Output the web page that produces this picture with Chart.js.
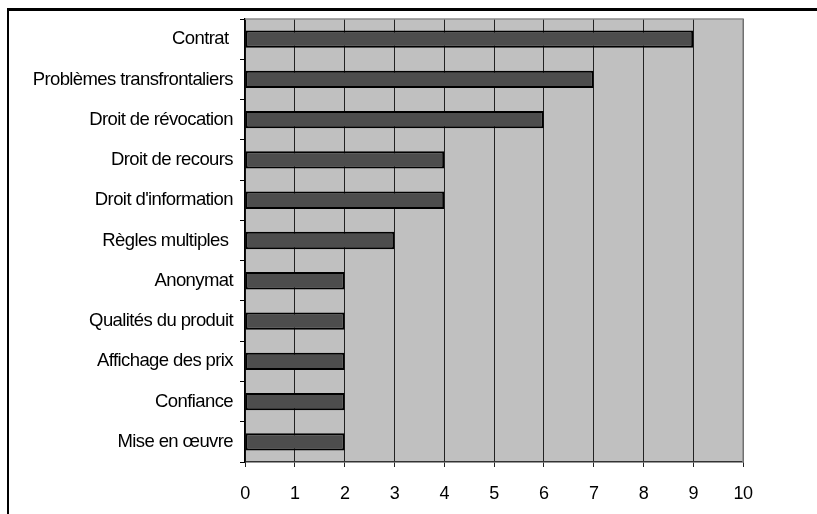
<!DOCTYPE html>
<html>
<head>
<meta charset="utf-8">
<script src="https://cdn.jsdelivr.net/npm/chart.js@4"></script>
<style>
  html, body { margin: 0; padding: 0; background: #fff; }
  #wrap { position: relative; width: 817px; height: 514px; }
</style>
</head>
<body>
<div id="wrap"><canvas id="chart" width="817" height="514"></canvas></div>
<script>
// categories, top to bottom
const categories = [
    'Contrat ',
    'Problèmes transfrontaliers',
    'Droit de révocation',
    'Droit de recours',
    "Droit d'information",
    'Règles multiples ',
    'Anonymat',
    'Qualités du produit',
    'Affichage des prix',
    'Confiance',
    'Mise en œuvre'
];
const counts = [9, 7, 6, 4, 4, 3, 2, 2, 2, 2, 2];
const xTicks = [0, 1, 2, 3, 4, 5, 6, 7, 8, 9, 10];

// tighter text, grey plot background, outer frame
const framePlugin = {
    id: 'frame',
    beforeUpdate(chart) {
        chart.ctx.letterSpacing = '-0.6px';
    },
    beforeDraw(chart) {
        const { ctx, chartArea: a } = chart;
        ctx.letterSpacing = '-0.6px';
        ctx.save();
        ctx.fillStyle = '#c0c0c0';
        ctx.fillRect(a.left, a.top, a.right - a.left, a.bottom - a.top);
        ctx.restore();
    },
    afterDraw(chart) {
        const { ctx, chartArea: a } = chart;
        ctx.save();
        // light border on top and right of plot
        ctx.strokeStyle = '#8a8a8a';
        ctx.lineWidth = 1.5;
        ctx.beginPath();
        ctx.moveTo(a.left, a.top);
        ctx.lineTo(a.right, a.top);
        ctx.lineTo(a.right, a.bottom);
        ctx.stroke();
        // page frame
        ctx.fillStyle = '#000';
        ctx.fillRect(7, 8, 810, 3);
        ctx.fillRect(7, 8, 2, 506);
        ctx.restore();
    }
};

new Chart(document.getElementById('chart'), {
    type: 'bar',
    data: {
        labels: categories,
        datasets: [{
            data: counts,
            backgroundColor: '#4d4d4d',
            borderColor: '#000',
            borderWidth: 2,
            borderSkipped: false,
            barPercentage: 0.43,
            categoryPercentage: 1
        }]
    },
    options: {
        indexAxis: 'y',
        responsive: false,
        animation: false,
        layout: { padding: { top: 19, right: 74, left: 0, bottom: 0 } },
        plugins: { legend: { display: false }, tooltip: { enabled: false } },
        scales: {
            x: {
                min: 0,
                max: 10,
                afterBuildTicks: s => { s.ticks = xTicks.map(v => ({ value: v })); },
                afterFit: s => { s.height = 52; },
                grid: { color: '#222', lineWidth: 1, tickLength: 5 },
                border: { color: '#333', width: 1.5 },
                ticks: {
                    color: '#000',
                    font: { family: 'Liberation Sans, Arial', size: 18 },
                    padding: 16
                }
            },
            y: {
                afterFit: s => { s.width = 245; },
                grid: { drawOnChartArea: false, color: '#000', tickLength: 5, offset: true },
                border: { color: '#000', width: 1.5 },
                ticks: {
                    color: '#000',
                    font: { family: 'Liberation Sans, Arial', size: 18.5 },
                    padding: 7
                }
            }
        }
    },
    plugins: [framePlugin]
});
</script>
</body>
</html>
